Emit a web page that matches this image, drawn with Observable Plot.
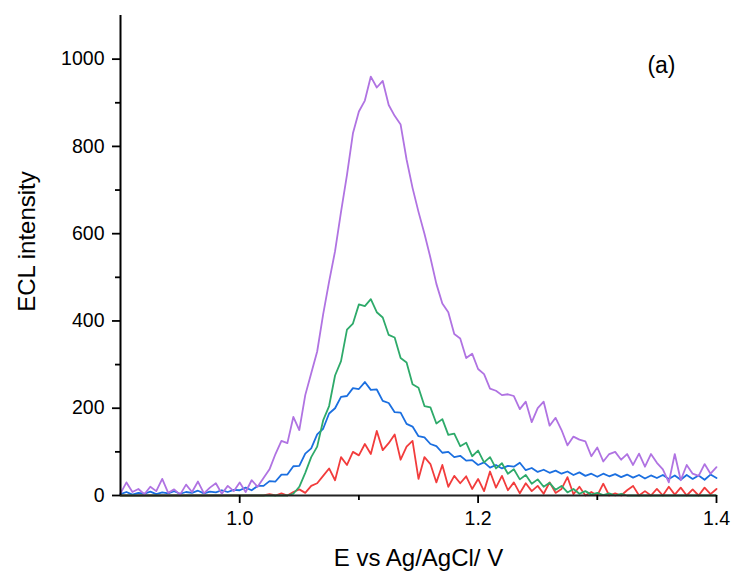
<!DOCTYPE html>
<html>
<head>
<meta charset="utf-8">
<script src="https://cdn.jsdelivr.net/npm/d3@7"></script>
<script src="https://cdn.jsdelivr.net/npm/@observablehq/plot@0.6"></script>
<style>
  html, body { margin: 0; padding: 0; background: #fff; }
  svg { display: block; }
</style>
</head>
<body>
<div id="chart"></div>
<script>
// Potential (V vs Ag/AgCl), shared sampling grid
const potential = [
  0.900,0.905,0.910,0.915,0.920,0.925,0.930,0.935,0.940,0.945,
  0.950,0.955,0.960,0.965,0.970,0.975,0.980,0.985,0.990,0.995,
  1.000,1.005,1.010,1.015,1.020,1.025,1.030,1.035,1.040,1.045,
  1.050,1.055,1.060,1.065,1.070,1.075,1.080,1.085,1.090,1.095,
  1.100,1.105,1.110,1.115,1.120,1.125,1.130,1.135,1.140,1.145,
  1.150,1.155,1.160,1.165,1.170,1.175,1.180,1.185,1.190,1.195,
  1.200,1.205,1.210,1.215,1.220,1.225,1.230,1.235,1.240,1.245,
  1.250,1.255,1.260,1.265,1.270,1.275,1.280,1.285,1.290,1.295,
  1.300,1.305,1.310,1.315,1.320,1.325,1.330,1.335,1.340,1.345,
  1.350,1.355,1.360,1.365,1.370,1.375,1.380,1.385,1.390,1.395,
  1.400
];

const tracePurple = [
  5,30,8,15,3,20,10,38,6,14,
  2,25,8,32,5,18,28,4,22,10,
  30,8,35,20,40,60,95,125,120,180,
  150,230,280,330,415,490,560,650,735,830,
  880,905,960,935,950,895,870,850,770,705,
  650,600,545,485,440,420,370,360,315,325,
  290,278,245,240,230,232,228,198,215,168,
  200,215,160,178,150,115,135,128,124,90,
  110,78,95,100,82,95,70,96,66,95,
  75,60,30,95,35,70,50,45,72,50,
  65
];

const traceGreen = [
  0,0,0,0,0,0,0,0,0,0,
  0,0,0,0,0,0,0,0,0,0,
  0,0,0,0,0,0,0,0,0,4,
  20,52,88,112,172,205,275,308,380,394,
  438,434,450,420,408,368,362,315,305,255,
  247,205,202,165,175,139,142,113,121,90,
  103,76,88,62,74,50,60,37,47,27,
  37,20,29,13,22,7,15,4,10,2,
  6,1,5,0,4,0,0,0,0,0,
  0,0,0,0,0,0,0,0,0,0,
  0
];

const traceBlue = [
  3,8,2,6,4,9,3,7,5,10,
  4,8,6,11,5,9,7,12,8,13,
  12,18,12,22,22,33,32,48,48,67,
  68,96,108,140,153,188,200,226,228,246,
  244,260,242,243,217,212,191,190,164,158,
  136,133,118,113,98,100,88,91,80,81,
  70,76,64,70,62,68,66,75,58,63,
  54,59,52,57,50,55,47,53,45,50,
  43,50,44,49,42,48,41,47,39,46,
  40,47,38,46,36,47,38,46,36,48,
  40
];

const traceRed = [
  0,0,0,0,0,0,0,0,0,0,
  0,0,0,0,0,0,0,0,0,0,
  0,0,0,0,0,3,0,5,0,8,
  14,6,22,28,45,62,35,88,70,100,
  92,118,95,148,104,120,140,82,112,125,
  38,88,72,30,70,20,45,28,44,15,
  38,10,55,18,45,12,30,5,28,10,
  22,4,30,6,15,42,3,20,0,8,
  0,27,0,5,0,12,22,0,10,0,
  15,0,20,2,18,0,14,0,18,3,
  15
];

// drawing order: first is at the bottom
const seriesNames = ["trace A", "trace B", "trace C", "trace D"];
const seriesValues = [traceRed, traceBlue, traceGreen, tracePurple];
const seriesColors = ["#F23C3C", "#1B6FE0", "#2EAA6A", "#B073E2"];

const xMajorTicks = [1.0, 1.2, 1.4];
const xMinorTicks = [1.1, 1.3];
const yMajorTicks = [0, 200, 400, 600, 800, 1000];
const yMinorTicks = [100, 300, 500, 700, 900];

const xTitle = "E vs Ag/AgCl/ V";
const yTitle = "ECL intensity";
const panelLabel = "(a)";

const rows = [];
seriesNames.forEach((name, s) => {
  potential.forEach((p, i) => {
    rows.push({series: name, E: p, I: seriesValues[s][i]});
  });
});

const font = "'Liberation Sans', Arial, sans-serif";

const chart = Plot.plot({
  width: 735,
  height: 574,
  marginLeft: 120,
  marginRight: 19,
  marginTop: 15,
  marginBottom: 79,
  style: {fontFamily: font, fontSize: "19.5px", color: "#000", background: "#fff"},
  x: {domain: [0.9, 1.4]},
  y: {domain: [0, 1100]},
  color: {type: "ordinal", domain: seriesNames, range: seriesColors},
  marks: [
    Plot.line(rows, {x: "E", y: "I", z: "series", stroke: "series", strokeWidth: 1.8, curve: "linear"}),
    Plot.ruleY([0], {stroke: "#222", strokeWidth: 2.2}),
    Plot.ruleX([0.9], {y1: 0, y2: 1100, stroke: "#000", strokeWidth: 2}),
    Plot.axisX(xMajorTicks, {tickSize: 8, tickPadding: 8, strokeWidth: 1.8, tickFormat: d3.format(".1f"), label: null, fontSize: "19.5px"}),
    Plot.axisX(xMinorTicks, {tickSize: 5, strokeWidth: 1.8, tickFormat: () => "", label: null}),
    Plot.axisY(yMajorTicks, {tickSize: 8, tickPadding: 8, strokeWidth: 1.8, tickFormat: d3.format("d"), label: null, fontSize: "19.5px"}),
    Plot.axisY(yMinorTicks, {tickSize: 5, strokeWidth: 1.8, tickFormat: () => "", label: null}),
    Plot.text([xTitle], {frameAnchor: "bottom", dy: 70, textAnchor: "middle", lineAnchor: "bottom", fontSize: 24, fill: "#000"}),
    Plot.text([yTitle], {frameAnchor: "left", rotate: -90, dx: -86, dy: -14, textAnchor: "middle", lineAnchor: "bottom", fontSize: 24, fill: "#000"}),
    Plot.text([panelLabel], {frameAnchor: "top-right", dx: -41, dy: 57, textAnchor: "end", lineAnchor: "bottom", fontSize: 23, fill: "#000"})
  ]
});

document.getElementById("chart").appendChild(chart);
</script>
</body>
</html>
